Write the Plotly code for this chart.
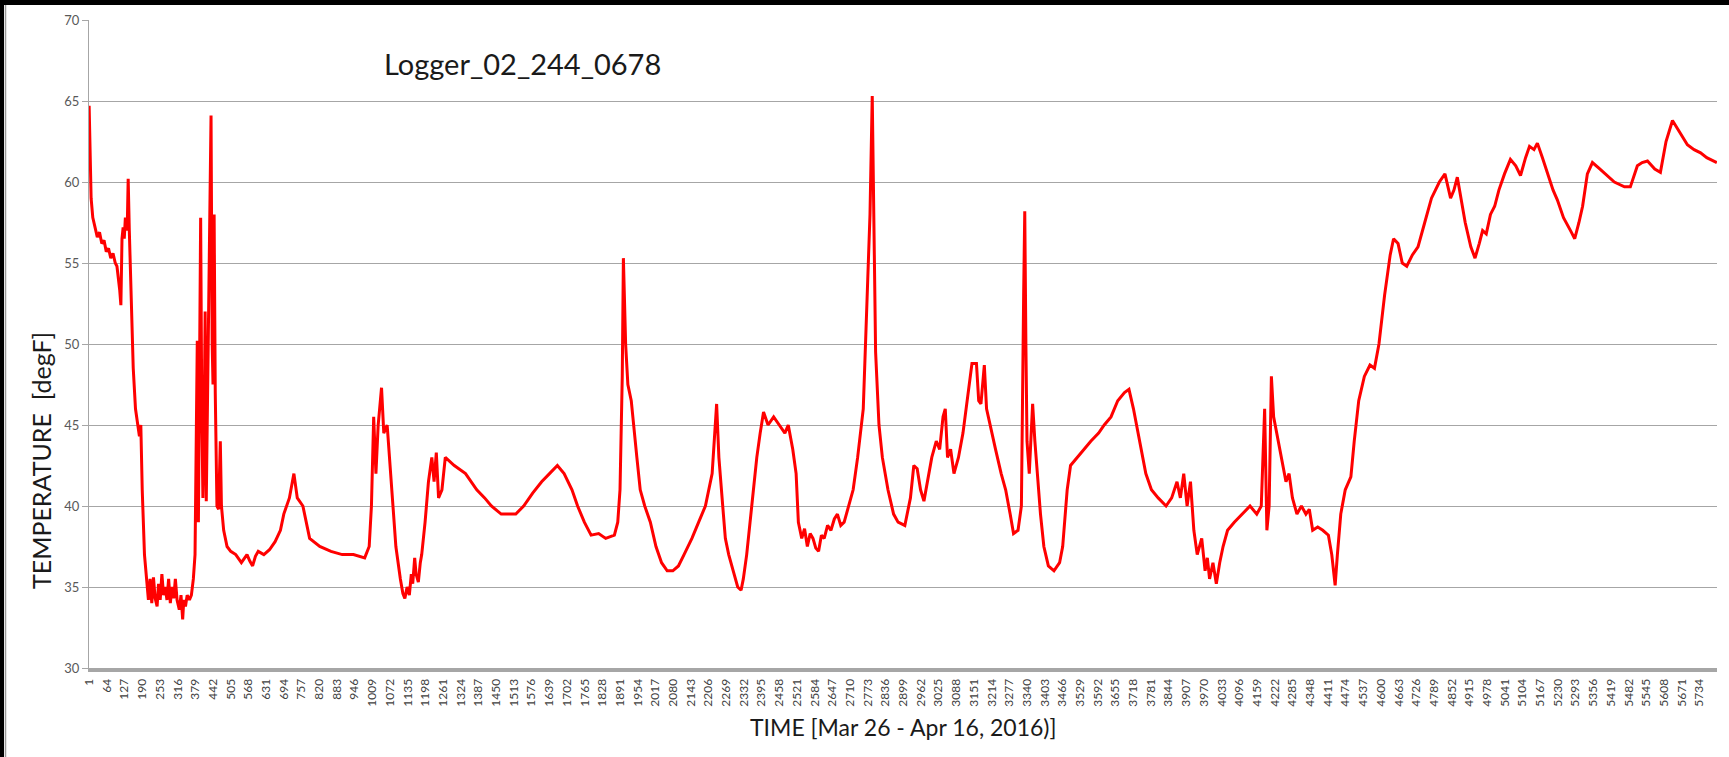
import plotly.graph_objects as go

# ---------------- data ----------------
# sample number (category index on the time axis) and logged temperature, in six pieces
idx_part1 = [1, 4, 8, 14, 22, 30, 38, 46, 54, 62, 70, 78, 86, 94, 100, 105, 110, 114, 118, 122,
             126, 130, 134, 137, 140, 144, 150, 158, 166, 174, 180, 185, 190, 198, 205, 212, 218, 224, 230, 236,
             243, 248, 254, 260, 266, 272, 278, 284, 290, 296, 302, 308, 314, 322, 328, 334, 338, 344, 350, 358,
             365, 372, 378, 382, 386, 390, 394, 398, 402, 406, 410, 414, 418, 424, 430, 435, 439, 442, 446, 450,
             456, 462, 468, 472, 480, 492, 505]
temp_part1 = [64.7, 62, 59, 57.8, 57.2, 56.6, 56.9, 56.2, 56.4, 55.7, 55.9, 55.3, 55.6, 55, 54.8, 54.2, 53.3, 52.4, 56.5, 57.2,
              56.5, 57.8, 57, 57.5, 60.2, 57, 53, 48.5, 46, 45, 44.3, 45, 41, 37, 35.5, 34.2, 35.5, 34, 35.6, 34.3,
              33.8, 35.2, 34.2, 35.8, 34.5, 35, 34.2, 35.5, 34, 35, 34.3, 35.5, 34.2, 33.6, 34.5, 33, 34.2, 33.8, 34.5, 34.2,
              34.5, 35.5, 37, 44, 50.2, 39, 48, 57.8, 46, 40.5, 44, 52, 40.3, 48, 58, 64.1, 50, 47.5, 58, 47,
              40, 39.8, 44, 40, 38.5, 37.5, 37.2]

idx_part2 = [523, 543, 563, 573, 583, 593, 603, 623, 643, 663, 682, 694, 714, 730, 742, 762, 786, 822, 862, 902,
             942, 982, 998, 1006, 1014, 1022, 1030, 1042, 1050, 1062, 1070, 1081, 1093, 1109, 1118, 1125, 1133, 1141, 1148, 1153,
             1160, 1165, 1173, 1180, 1185, 1197, 1209, 1221, 1229, 1237, 1245, 1257, 1269, 1301, 1341, 1381, 1409, 1433, 1468]
temp_part2 = [37, 36.5, 37, 36.6, 36.3, 36.9, 37.2, 37, 37.3, 37.8, 38.5, 39.5, 40.5, 42, 40.5, 40, 38, 37.5, 37.2, 37,
              37, 36.8, 37.5, 40, 45.5, 42, 45, 47.3, 44.5, 45, 43, 40, 37.5, 35.5, 34.6, 34.3, 35, 34.5, 35.8, 35.2,
              36.8, 35.8, 35.3, 36.5, 37, 39, 41.5, 43, 41.5, 43.3, 40.5, 41, 43, 42.5, 42, 41, 40.5, 40, 39.5]

idx_part3 = [1520, 1548, 1580, 1612, 1640, 1668, 1692, 1720, 1740, 1764, 1788, 1815, 1840, 1871, 1883, 1891, 1899, 1903, 1911, 1919,
             1931, 1939, 1951, 1963, 1979, 1999, 2019, 2039, 2059, 2079, 2099, 2119, 2147, 2171, 2195, 2219, 2227, 2235, 2243, 2251,
             2259, 2266, 2278, 2294, 2310, 2322, 2330, 2342, 2354, 2366, 2378, 2390, 2402, 2418, 2438, 2458, 2478, 2490]
temp_part3 = [39.5, 40, 40.8, 41.5, 42, 42.5, 42, 41, 40, 39, 38.2, 38.3, 38, 38.2, 39, 41, 48, 55.3, 50, 47.5,
              46.5, 45, 43, 41, 40, 39, 37.5, 36.5, 36, 36, 36.3, 37, 38, 39, 40, 42, 44, 46.3, 43, 41,
              39.5, 38, 37, 36, 35, 34.8, 35.5, 37, 39, 41, 43, 44.5, 45.8, 45, 45.5, 45, 44.5, 45]

idx_part4 = [2506, 2518, 2526, 2538, 2548, 2558, 2568, 2578, 2588, 2598, 2608, 2618, 2630, 2642, 2654, 2665, 2677, 2689, 2705, 2721,
             2737, 2757, 2773, 2781, 2789, 2793, 2797, 2801, 2813, 2825, 2845, 2865, 2881, 2905, 2925, 2937, 2949, 2961, 2973, 2985,
             3001, 3017, 3029, 3041, 3049, 3057, 3068, 3080, 3096, 3112, 3128, 3144, 3160, 3168, 3176, 3188, 3196, 3208, 3228, 3248,
             3264, 3280, 3292, 3308, 3320, 3328, 3332, 3336, 3340, 3348, 3356, 3360, 3368, 3376, 3388, 3400, 3416, 3436, 3456, 3467,
             3475, 3483, 3495]
temp_part4 = [43.5, 42, 39, 38, 38.6, 37.5, 38.3, 38, 37.4, 37.2, 38.2, 38, 38.8, 38.5, 39.2, 39.5, 38.8, 39, 40, 41,
              43, 46, 54, 58, 65.3, 60, 52, 49.5, 45, 43, 41, 39.5, 39, 38.8, 40.5, 42.5, 42.3, 41, 40.3, 41.5,
              43, 44, 43.5, 45.5, 46, 43, 43.5, 42, 43, 44.5, 46.5, 48.8, 48.8, 46.5, 46.3, 48.7, 46, 45, 43.5, 42,
              41, 39.5, 38.3, 38.5, 40, 53, 58.2, 50, 44, 42, 45, 46.3, 44, 42, 39.5, 37.5, 36.3, 36, 36.5, 37.5,
              39, 41, 42.5]

idx_part5 = [3519, 3543, 3567, 3595, 3615, 3639, 3663, 3687, 3703, 3719, 3735, 3751, 3763, 3783, 3807, 3835, 3855, 3874, 3886, 3898,
             3910, 3922, 3934, 3946, 3962, 3974, 3982, 3990, 4002, 4014, 4026, 4038, 4054, 4078, 4106, 4134, 4158, 4174, 4186, 4194,
             4202, 4210, 4218, 4234, 4250, 4262, 4273, 4285, 4301, 4317, 4333, 4345, 4357, 4375, 4393, 4413, 4425, 4437, 4445, 4457,
             4473, 4485]
temp_part5 = [43, 43.5, 44, 44.5, 45, 45.5, 46.5, 47, 47.2, 46, 44.5, 43, 42, 41, 40.5, 40, 40.5, 41.5, 40.5, 42,
              40, 41.5, 38.5, 37, 38, 36, 36.8, 35.5, 36.5, 35.2, 36.5, 37.5, 38.5, 39, 39.5, 40, 39.5, 40, 46, 38.5,
              40, 48, 45.5, 44, 42.5, 41.5, 42, 40.5, 39.5, 40, 39.5, 39.8, 38.5, 38.7, 38.5, 38.2, 37, 35.1, 37, 39.5,
              41, 41.5]

idx_part6 = [4493, 4505, 4521, 4541, 4561, 4577, 4593, 4613, 4633, 4645, 4661, 4676, 4692, 4712, 4732, 4756, 4780, 4808, 4828, 4848,
             4860, 4872, 4884, 4900, 4920, 4935, 4950, 4962, 4975, 4990, 5005, 5020, 5040, 5061, 5080, 5097, 5115, 5129, 5145, 5157,
             5175, 5195, 5213, 5228, 5250, 5275, 5290, 5305, 5318, 5335, 5353, 5380, 5410, 5431, 5467, 5488, 5513, 5530, 5549, 5575,
             5595, 5615, 5638, 5660, 5691, 5715, 5738, 5760, 5796]
temp_part6 = [41.8, 44, 46.5, 48, 48.7, 48.5, 50, 53, 55.5, 56.5, 56.2, 55, 54.8, 55.5, 56, 57.5, 59, 60, 60.5, 59,
              59.5, 60.3, 59, 57.5, 56, 55.3, 56.2, 57, 56.8, 58, 58.5, 59.5, 60.5, 61.4, 61, 60.4, 61.5, 62.2, 62, 62.4,
              61.5, 60.5, 59.5, 58.9, 57.8, 57, 56.5, 57.5, 58.5, 60.5, 61.2, 60.8, 60.3, 60, 59.7, 59.7, 61, 61.2, 61.3, 60.8,
              60.6, 62.5, 63.8, 63.2, 62.3, 62, 61.8, 61.5, 61.2]

tick_labels = [str(v) for v in range(1, 5797, 63)]   # 1, 64, 127, ... 5734
tick_positions = [int(t) for t in tick_labels]
n_samples = 5796

chart_title = "Logger_02_244_0678"
x_title = "TIME [Mar 26 - Apr 16, 2016)]"
y_title = "TEMPERATURE  [degF]"

sample_index, temperature_degF = [], []
for xs, ys in [(idx_part1, temp_part1), (idx_part2, temp_part2), (idx_part3, temp_part3),
               (idx_part4, temp_part4), (idx_part5, temp_part5), (idx_part6, temp_part6)]:
    n = min(len(xs), len(ys))
    sample_index += xs[:n]
    temperature_degF += ys[:n]

# ---------------- layout geometry (pixels) ----------------
W, H = 1729, 757
ML, MR, MT, MB = 89, 12, 20, 89
PW, PH = W - ML - MR, H - MT - MB


def px_x(x):
    return (x - ML) / PW


def px_y(y):
    return (H - MB - y) / PH


FONT = "Lato, 'Open Sans', sans-serif"

fig = go.Figure()
fig.add_trace(go.Scatter(
    x=sample_index, y=temperature_degF, mode="lines",
    line=dict(color="#ff0000", width=3), showlegend=False, hoverinfo="skip",
))

fig.update_layout(
    width=W, height=H,
    margin=dict(l=ML, r=MR, t=MT, b=MB, pad=0),
    paper_bgcolor="white", plot_bgcolor="white",
    font=dict(family=FONT, color="#595959"),
    xaxis=dict(
        range=[0.5, n_samples + 0.5], tickmode="array",
        tickvals=tick_positions, ticktext=tick_labels, tickangle=-90,
        tickfont=dict(size=12, color="#404040", family=FONT),
        showgrid=False, zeroline=False,
        showline=True, linecolor="#a6a6a6", linewidth=4,
        ticks="", ticklabelstandoff=2,
    ),
    yaxis=dict(
        range=[30, 70], dtick=5, tick0=30,
        tickfont=dict(size=13, color="#595959", family=FONT),
        showgrid=True, gridcolor="#a6a6a6", gridwidth=1,
        zeroline=False, showline=True, linecolor="#a6a6a6", linewidth=1,
        ticks="outside", ticklen=6, tickcolor="#a6a6a6", tickwidth=1,
    ),
    annotations=[
        dict(text=chart_title, xref="paper", yref="paper", x=px_x(382), y=px_y(64),
             xanchor="left", yanchor="middle", showarrow=False,
             font=dict(size=29, color="#1a1a1a", family=FONT)),
        dict(text=x_title, xref="paper", yref="paper", x=0.5, y=px_y(727),
             xanchor="center", yanchor="middle", showarrow=False,
             font=dict(size=23, color="#1a1a1a", family=FONT)),
        dict(text=y_title, xref="paper", yref="paper", x=px_x(41), y=px_y(461),
             xanchor="center", yanchor="middle", showarrow=False, textangle=-90,
             font=dict(size=25, color="#1a1a1a", family=FONT)),
    ],
    shapes=[
        dict(type="rect", xref="paper", yref="paper", x0=px_x(0), x1=px_x(W), y0=px_y(0), y1=px_y(5),
             fillcolor="black", line=dict(width=0), layer="above"),
        dict(type="rect", xref="paper", yref="paper", x0=px_x(0), x1=px_x(4), y0=px_y(H), y1=px_y(0),
             fillcolor="black", line=dict(width=0), layer="above"),
        dict(type="line", xref="paper", yref="paper", x0=px_x(5.5), x1=px_x(5.5), y0=px_y(H), y1=px_y(5),
             line=dict(color="#9a9a9a", width=1.5), layer="above"),
    ],
)

fig.write_html(
    "out.html",
    config={"displayModeBar": False},
    post_script="document.body.style.margin='0';document.body.style.overflow='hidden';",
)
